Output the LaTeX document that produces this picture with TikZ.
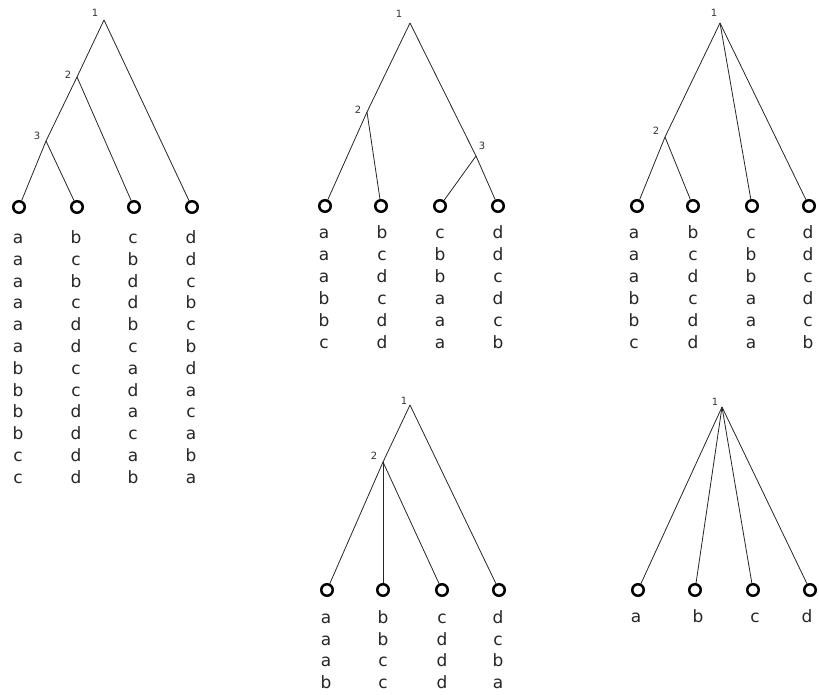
\documentclass[tikz,border=0pt]{standalone}
\usepackage{fontspec}
\setmainfont{DejaVu Sans}
\begin{document}
\begin{tikzpicture}[x=1pt,y=-1pt,
  leaf/.style={circle,draw=black,line width=2.5pt,minimum size=11.5pt,inner sep=0pt},
  branch/.style={line width=0.8pt,draw=black!85},
  num/.style={font=\fontsize{10}{11}\selectfont,inner sep=0pt,text=black!80},
  lbl/.style={font=\fontsize{17}{20}\selectfont,inner sep=0pt,anchor=base,text=black!85}]
\useasboundingbox (0,0) rectangle (819,694);
\newcommand\lettercol[5]{%
  \foreach \l [count=\k] in {#5} \node[lbl] (#1-\k) at ({#2},{#3+(\k-1)*#4}) {\l};}

% ---------- Tree 1 ----------
\coordinate (A1) at (104,20);
\coordinate (A2) at (77,77);
\coordinate (A3) at (46,141);
\node[num] (A1l) at (95,13) {1};
\node[num] (A2l) at (68,75) {2};
\node[num] (A3l) at (37,136) {3};
\node[leaf] (Aa) at (19,207) {};
\node[leaf] (Ab) at (77,207) {};
\node[leaf] (Ac) at (134,207) {};
\node[leaf] (Ad) at (192,207) {};
\draw[branch] (A1) -- (Ad);
\draw[branch] (A1) -- (A2) -- (A3) -- (Aa);
\draw[branch] (A2) -- (Ac);
\draw[branch] (A3) -- (Ab);
\lettercol{Ta}{18}{243.5}{21.8}{a,a,a,a,a,a,b,b,b,b,c,c}
\lettercol{Tb}{76}{243.5}{21.8}{b,c,b,c,d,d,c,c,d,d,d,d}
\lettercol{Tc}{133}{243.5}{21.8}{c,b,d,d,b,c,a,d,a,c,a,b}
\lettercol{Td}{191}{243.5}{21.8}{d,d,c,b,c,b,d,a,c,a,b,a}

% ---------- Tree 2 ----------
\coordinate (B1) at (410,23);
\coordinate (B2) at (367,112);
\coordinate (B3) at (476,156);
\node[num] (B1l) at (399,14) {1};
\node[num] (B2l) at (358,110) {2};
\node[num] (B3l) at (482,146) {3};
\node[leaf] (Ba) at (325,206) {};
\node[leaf] (Bb) at (381,206) {};
\node[leaf] (Bc) at (440,206) {};
\node[leaf] (Bd) at (498,206) {};
\draw[branch] (B1) -- (B2) -- (Ba);
\draw[branch] (B2) -- (Bb);
\draw[branch] (B1) -- (B3) -- (Bd);
\draw[branch] (B3) -- (Bc);
\lettercol{Ua}{324}{238.5}{22}{a,a,a,b,b,c}
\lettercol{Ub}{382}{238.5}{22}{b,c,d,c,d,d}
\lettercol{Uc}{440}{238.5}{22}{c,b,b,a,a,a}
\lettercol{Ud}{498}{238.5}{22}{d,d,c,d,c,b}

% ---------- Tree 3 ----------
\coordinate (C1) at (720,23);
\coordinate (C2) at (665,137);
\node[num] (C1l) at (714,13) {1};
\node[num] (C2l) at (656,131) {2};
\node[leaf] (Ca) at (637,206) {};
\node[leaf] (Cb) at (693,206) {};
\node[leaf] (Cc) at (752,206) {};
\node[leaf] (Cd) at (809,206) {};
\draw[branch] (C1) -- (C2) -- (Ca);
\draw[branch] (C2) -- (Cb);
\draw[branch] (C1) -- (Cc);
\draw[branch] (C1) -- (Cd);
\lettercol{Va}{634}{238.5}{22}{a,a,a,b,b,c}
\lettercol{Vb}{693}{238.5}{22}{b,c,d,c,d,d}
\lettercol{Vc}{751}{238.5}{22}{c,b,b,a,a,a}
\lettercol{Vd}{808}{238.5}{22}{d,d,c,d,c,b}

% ---------- Tree 4 ----------
\coordinate (D1) at (410,405);
\coordinate (D2) at (383,462);
\node[num] (D1l) at (404,401) {1};
\node[num] (D2l) at (374,456) {2};
\node[leaf] (Da) at (327,590) {};
\node[leaf] (Db) at (383,590) {};
\node[leaf] (Dc) at (442,590) {};
\node[leaf] (Dd) at (499,590) {};
\draw[branch] (D1) -- (D2) -- (Da);
\draw[branch] (D2) -- (Db);
\draw[branch] (D2) -- (Dc);
\draw[branch] (D1) -- (Dd);
\lettercol{Wa}{326}{623.5}{21.5}{a,a,a,b}
\lettercol{Wb}{383}{623.5}{21.5}{b,b,c,c}
\lettercol{Wc}{442}{623.5}{21.5}{c,d,d,d}
\lettercol{Wd}{498}{623.5}{21.5}{d,c,b,a}

% ---------- Tree 5 ----------
\coordinate (E1) at (722,407);
\node[num] (E1l) at (715,402) {1};
\node[leaf] (Ea) at (638,590) {};
\node[leaf] (Eb) at (695,590) {};
\node[leaf] (Ec) at (753,590) {};
\node[leaf] (Ed) at (810,590) {};
\draw[branch] (E1) -- (Ea);
\draw[branch] (E1) -- (Eb);
\draw[branch] (E1) -- (Ec);
\draw[branch] (E1) -- (Ed);
\node[lbl] (Xa) at (636,622.5) {a};
\node[lbl] (Xb) at (698,622.5) {b};
\node[lbl] (Xc) at (755,622.5) {c};
\node[lbl] (Xd) at (807,622.5) {d};
\end{tikzpicture}
\end{document}
